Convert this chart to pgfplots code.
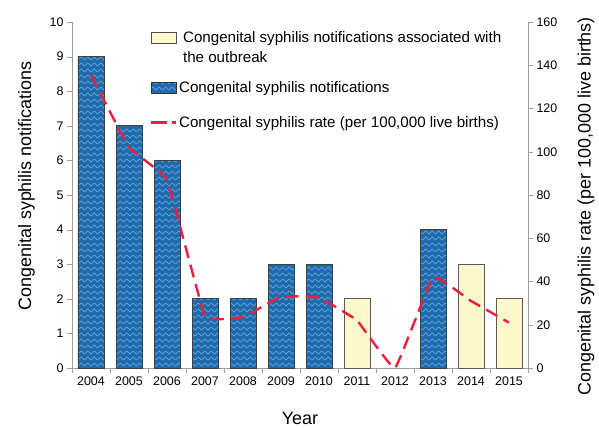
\documentclass[border=0pt]{standalone}
\usepackage{pgfplots}
\pgfplotsset{compat=1.18}
\usepackage{fontspec}
\setmainfont{Liberation Sans}
\usetikzlibrary{patterns}
\definecolor{barblue}{HTML}{1F6AAA}
\definecolor{zig}{HTML}{62A6DE}
\definecolor{cream}{HTML}{FCF8CC}
\definecolor{rateRed}{HTML}{E8203F}
\definecolor{axgray}{HTML}{A0A0A0}
\pgfdeclarepatternformonly{zigzag}{\pgfpoint{-0.5bp}{-0.5bp}}{\pgfpoint{7bp}{6.5bp}}{\pgfpoint{6.5bp}{6bp}}{
  \pgfsetlinewidth{0.7bp}
  \pgfpathmoveto{\pgfpoint{0bp}{1bp}}
  \pgfpathlineto{\pgfpoint{3.25bp}{4bp}}
  \pgfpathlineto{\pgfpoint{6.5bp}{1bp}}
  \pgfusepath{stroke}}
\begin{document}
\begin{tikzpicture}[x=1bp,y=1bp]
\path[use as bounding box] (-72,-59) rectangle (527,368);
\begin{axis}[
  at={(0,0)}, anchor=south west,
  scale only axis, width=456bp, height=346bp,
  xmin=-0.5, xmax=11.5, ymin=0, ymax=10,
  axis y line*=left, axis x line*=bottom,
  axis line style={axgray, -},
  xtick={0,...,11},
  xticklabels={2004,2005,2006,2007,2008,2009,2010,2011,2012,2013,2014,2015},
  major x tick style={draw=none},
  minor xtick={-0.5,0.5,...,11.5},
  minor x tick style={axgray},
  minor tick length=5bp,
  ytick={0,1,...,10},
  y tick style={axgray},
  major tick length=5bp,
  tick align=outside,
  tick label style={font=\fontsize{12.5}{15}\selectfont},
  /pgf/number format/assume math mode=true,
  xlabel={Year}, ylabel={Congenital syphilis notifications},
  label style={font=\fontsize{18}{21}\selectfont},
  xlabel style={at={(axis description cs:0.5,-0.1445)}, anchor=center},
  ylabel style={at={(axis description cs:-0.1,0.526)}, anchor=center},
  ybar, bar width=26bp, bar shift=0pt,
]
\addplot[draw=black!75, line width=0.8bp, fill=barblue, postaction={pattern=zigzag, pattern color=zig}]
  coordinates {(0,9) (1,7) (2,6) (3,2) (4,2) (5,3) (6,3) (9,4)};
\addplot[draw=black!65, line width=0.8bp, fill=cream]
  coordinates {(7,2) (10,3) (11,2)};
\end{axis}
\begin{axis}[
  at={(0,0)}, anchor=south west,
  scale only axis, width=456bp, height=346bp,
  xmin=-0.5, xmax=11.5, ymin=0, ymax=160,
  axis y line*=right, axis x line=none,
  axis line style={axgray, -},
  ytick={0,20,...,160},
  y tick style={axgray},
  major tick length=5bp,
  tick align=outside,
  tick label style={font=\fontsize{12.5}{15}\selectfont},
  /pgf/number format/assume math mode=true,
  ylabel={Congenital syphilis rate (per 100,000 live births)},
  label style={font=\fontsize{18}{21}\selectfont},
  ylabel style={at={(axis description cs:1.127,0.467)}, anchor=center, rotate=0},
  legend style={draw=none, fill=none, inner sep=0pt, at={(axis description cs:0.171,0.977)}, anchor=north west,
    font=\fontsize{15.2}{19.5}\selectfont, nodes={align=left, inner sep=1.5bp}, row sep=15bp,
    /tikz/every even column/.append style={column sep=0bp}},
  legend cell align=left,
]
\addlegendimage{legend image code/.code={\draw[draw=black!70, line width=0.8bp, fill=cream] (0bp,4.5bp) rectangle (25bp,15bp);}}
\addlegendentry{\hspace{4bp}Congenital syphilis notifications associated with\\\hspace{4bp}the outbreak}
\addlegendimage{legend image code/.code={\draw[draw=black!80, line width=0.8bp, fill=barblue, postaction={pattern=zigzag, pattern color=zig}] (0bp,-5.25bp) rectangle (25bp,5.25bp);}}
\addlegendentry{Congenital syphilis notifications}
\addplot[rateRed, line width=2.4bp, dash pattern=on 13bp off 7bp, smooth, tension=0.15,
  legend image code/.code={\draw[rateRed, line width=2.4bp, dash pattern=on 16bp off 5bp on 4bp off 10bp] (0bp,0bp) -- (25bp,0bp); \path[draw=none] (0bp,0bp) -- (0bp,12bp);}]
  coordinates {(0,135.5) (1,102) (2,87) (3,24) (4,23.6) (5,33) (6,32.5) (7,22) (8,0) (9,42) (10,31) (11,21)};
\addlegendentry{Congenital syphilis rate (per 100,000 live births)}
\end{axis}
\end{tikzpicture}
\end{document}
